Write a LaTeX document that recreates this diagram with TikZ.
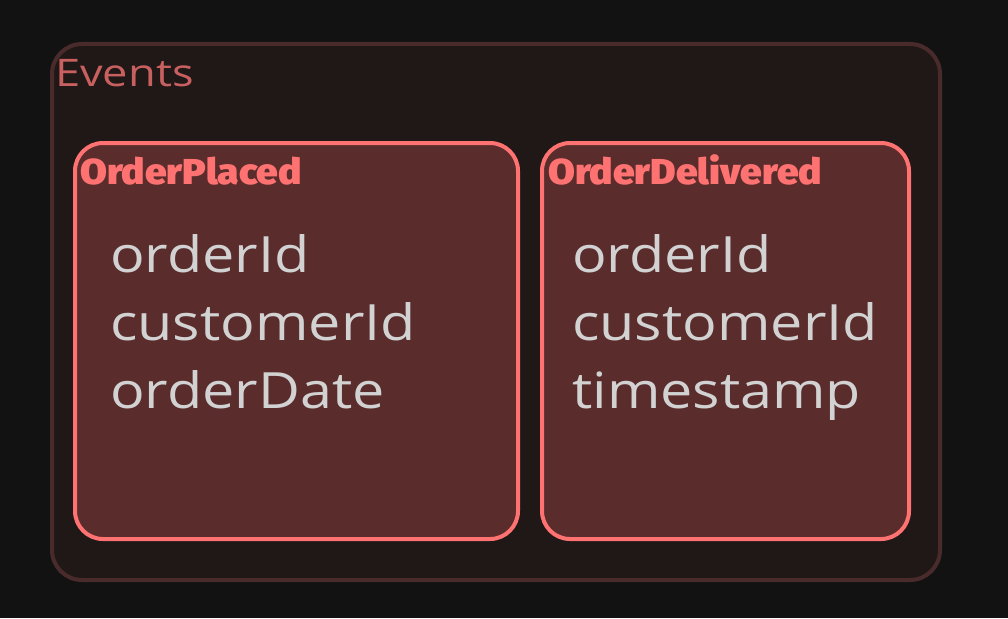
\documentclass[tikz,border=0pt]{standalone}
\usepackage{fontspec}
\setmainfont{Open Sans}
\newfontfamily\titlefont{Fira Sans Black}[FakeStretch=1.08]
\newfontfamily\handfont{Open Sans}[FakeStretch=1.15]
\newfontfamily\grpfont{Open Sans}[FakeStretch=1.19]
\definecolor{bgc}{HTML}{121212}
\definecolor{outerfill}{HTML}{201717}
\definecolor{outerline}{HTML}{4A2B2B}
\definecolor{innerfill}{HTML}{5A2C2C}
\definecolor{innerline}{HTML}{FF7272}
\definecolor{evtext}{HTML}{C86060}
\definecolor{bodytext}{HTML}{D2D2D2}
\tikzset{
  outerbox/.style={draw=outerline, fill=outerfill, line width=4pt, rounded corners=30pt, anchor=north west, inner sep=0pt},
  innerbox/.style={draw=innerline, fill=innerfill, line width=4pt, rounded corners=28pt, anchor=north west, inner sep=0pt},
  grouplabel/.style={anchor=base west, inner sep=0pt, text=evtext, font=\grpfont\fontsize{38}{44}\selectfont},
  titlelabel/.style={anchor=base west, inner sep=0pt, text=innerline, font=\titlefont\fontsize{36}{40}\selectfont},
  fieldlabel/.style={anchor=base west, inner sep=0pt, text=bodytext, align=left, font=\handfont\fontsize{50}{68}\selectfont}
}
\begin{document}
\begin{tikzpicture}[x=1pt,y=-1pt]
\fill[bgc] (0,0) rectangle (1008,618);
\useasboundingbox (0,0) rectangle (1008,618);
\node[outerbox, minimum width=888pt, minimum height=536pt] (events) at (50,42) {};
\node[grouplabel] (eventslbl) at (55,86) {Events};
\node[innerbox, minimum width=443pt, minimum height=396pt] (placed) at (73,141) {};
\node[titlelabel] (placedlbl) at (80,184) {OrderPlaced};
\node[fieldlabel] (placedf1) at (110,272) {orderId};
\node[fieldlabel] (placedf2) at (110,340) {customerId};
\node[fieldlabel] (placedf3) at (110,408) {orderDate};
\node[innerbox, minimum width=367pt, minimum height=396pt] (delivered) at (540,141) {};
\node[titlelabel] (deliveredlbl) at (548,184) {OrderDelivered};
\node[fieldlabel] (deliveredf1) at (572,272) {orderId};
\node[fieldlabel] (deliveredf2) at (572,340) {customerId};
\node[fieldlabel] (deliveredf3) at (572,408) {timestamp};
\end{tikzpicture}
\end{document}
